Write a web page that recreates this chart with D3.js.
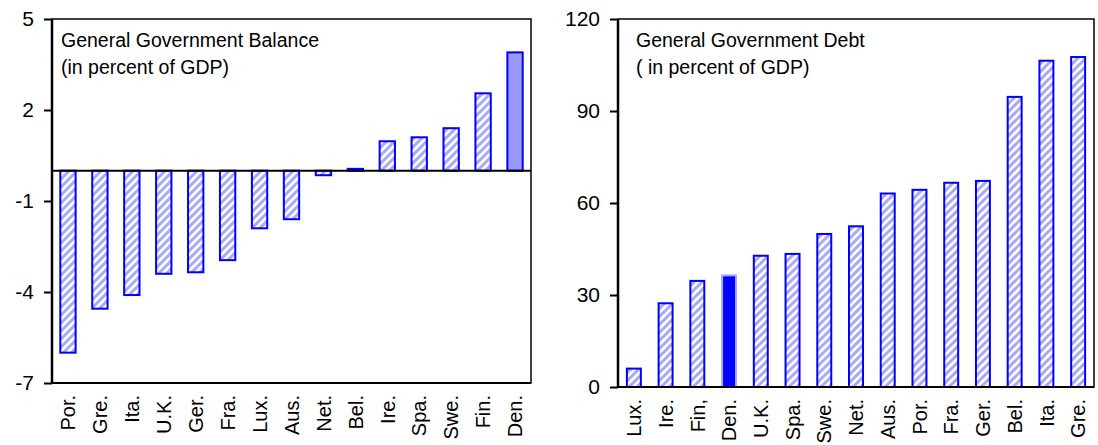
<!DOCTYPE html>
<html lang="en">
<head>
    <meta charset="UTF-8">
    <title>General Government Balance and Debt</title>
    <script src="https://d3js.org/d3.v7.min.js"></script>
</head>

<style type="text/css">
    body {
        margin: 0;
        background-color: white;
    }
    svg text {
        font-family: "Liberation Sans", Arial, sans-serif;
        fill: black;
    }
</style>
<body>
<div id="chart"></div>

<script>
    // balance, percent of GDP
    var balCats = ["Por.", "Gre.", "Ita.", "U.K.", "Ger.", "Fra.", "Lux.", "Aus.", "Net.", "Bel.", "Ire.", "Spa.", "Swe.", "Fin.", "Den."];
    var balVals = [-6.0, -4.55, -4.1, -3.4, -3.35, -2.95, -1.9, -1.6, -0.15, 0.06, 0.97, 1.1, 1.4, 2.55, 3.9];
    var balTicks = [5, 2, -1, -4, -7];

    // debt, percent of GDP
    var debtCats = ["Lux.", "Ire.", "Fin,", "Den.", "U.K.", "Spa.", "Swe.", "Net.", "Aus.", "Por.", "Fra.", "Ger.", "Bel.", "Ita.", "Gre."];
    var debtVals = [6.0, 27.3, 34.6, 36.4, 42.8, 43.4, 49.9, 52.4, 63.1, 64.3, 66.6, 67.2, 94.6, 106.4, 107.6];
    var debtTicks = [0, 30, 60, 90, 120];

    var width = 1098;
    var height = 445;
    var titleSize = 19.5;
    var tickSize = 21;
    var catSize = 20;
    var barColor = "#0000ff";
    var hatchColor = "#a8a8ff";

    var svg = d3.select("#chart").append("svg")
        .attr("width", width)
        .attr("height", height);

    var defs = svg.append("defs");
    var pat = defs.append("pattern")
        .attr("id", "hatch")
        .attr("patternUnits", "userSpaceOnUse")
        .attr("width", 8)
        .attr("height", 8);
    pat.append("rect").attr("width", 8).attr("height", 8).style("fill", "white");
    pat.append("path")
        .attr("d", "M0,8 L8,0 M-2,2 L2,-2 M6,10 L10,6")
        .style("stroke", hatchColor)
        .style("stroke-width", 3);

    function drawPanel(cfg) {
        var g = svg.append("g");

        var x = d3.scaleBand()
            .domain(cfg.cats)
            .range([cfg.left, cfg.right])
            .paddingInner(cfg.pad)
            .paddingOuter(cfg.pad / 2);

        var y = d3.scaleLinear()
            .domain(cfg.domain)
            .range([cfg.bottom, cfg.top]);

        // bars
        g.selectAll(".bar")
            .data(cfg.vals)
            .enter()
            .append("rect")
            .attr("class", "bar")
            .attr("x", function (d, i) {
                return x(cfg.cats[i]);
            })
            .attr("y", function (d) {
                return y(Math.max(0, d));
            })
            .attr("width", x.bandwidth())
            .attr("height", function (d) {
                return Math.abs(y(d) - y(0));
            })
            .style("fill", function (d, i) {
                return cfg.cats[i] == cfg.special ? cfg.specialFill : "url(#hatch)";
            })
            .style("stroke", function (d, i) {
                return cfg.cats[i] == cfg.special ? cfg.specialStroke : barColor;
            })
            .style("stroke-width", 2);

        // frame
        g.append("rect")
            .attr("x", cfg.left)
            .attr("y", cfg.top)
            .attr("width", cfg.right - cfg.left)
            .attr("height", cfg.bottom - cfg.top)
            .style("fill", "none")
            .style("stroke", "black")
            .style("stroke-width", 1.5);

        // y axis
        var axis = d3.axisLeft(y)
            .tickValues(cfg.ticks)
            .tickSize(8)
            .tickPadding(10)
            .tickFormat(function (d) {
                return d < 0 ? "-" + Math.abs(d) : d;
            });

        var ax = g.append("g")
            .attr("transform", "translate(" + cfg.left + ",0)")
            .call(axis);
        ax.select(".domain")
            .attr("d", "M0," + cfg.top + "V" + cfg.bottom)
            .style("stroke", "black")
            .style("stroke-width", 2.5);
        ax.selectAll(".tick line").style("stroke", "black").style("stroke-width", 2);
        ax.selectAll(".tick text")
            .style("font-size", tickSize + "px")
            .style("font-family", '"Liberation Sans", Arial, sans-serif');

        // zero line
        if (cfg.domain[0] < 0) {
            g.append("line")
                .attr("x1", cfg.left)
                .attr("x2", cfg.right)
                .attr("y1", y(0))
                .attr("y2", y(0))
                .style("stroke", "black")
                .style("stroke-width", 2);
        }
        // bottom line a bit heavier
        g.append("line")
            .attr("x1", cfg.left)
            .attr("x2", cfg.right)
            .attr("y1", cfg.bottom)
            .attr("y2", cfg.bottom)
            .style("stroke", "black")
            .style("stroke-width", 2);

        // category labels
        g.selectAll(".cat")
            .data(cfg.cats)
            .enter()
            .append("text")
            .attr("class", "cat")
            .attr("transform", function (d) {
                return "translate(" + (x(d) + x.bandwidth() / 2) + "," + (cfg.bottom + 12) + ") rotate(-90)";
            })
            .attr("dy", "0.36em")
            .style("text-anchor", "end")
            .style("font-size", catSize + "px")
            .text(function (d) {
                return d;
            });

        // title
        var t = g.append("text")
            .attr("x", cfg.left + cfg.titleDx)
            .attr("y", 47)
            .style("font-size", titleSize + "px");
        t.append("tspan").attr("x", cfg.left + cfg.titleDx).text(cfg.title[0]);
        t.append("tspan").attr("x", cfg.left + cfg.titleDx).attr("dy", 27).text(cfg.title[1]);
    }

    drawPanel({
        cats: balCats,
        vals: balVals,
        ticks: balTicks,
        domain: [-7, 5],
        left: 52,
        right: 531,
        top: 19,
        bottom: 383,
        pad: 0.52,
        special: "Den.",
        specialFill: "#9999ff",
        specialStroke: barColor,
        titleDx: 9,
        title: ["General Government Balance", "(in percent of GDP)"]
    });

    drawPanel({
        cats: debtCats,
        vals: debtVals,
        ticks: debtTicks,
        domain: [0, 120],
        left: 618,
        right: 1094,
        top: 19,
        bottom: 387,
        pad: 0.56,
        special: "Den.",
        specialFill: barColor,
        specialStroke: "#a8a8ff",
        titleDx: 18,
        title: ["General Government Debt", "( in percent of GDP)"]
    });
</script>

</body>
</html>
